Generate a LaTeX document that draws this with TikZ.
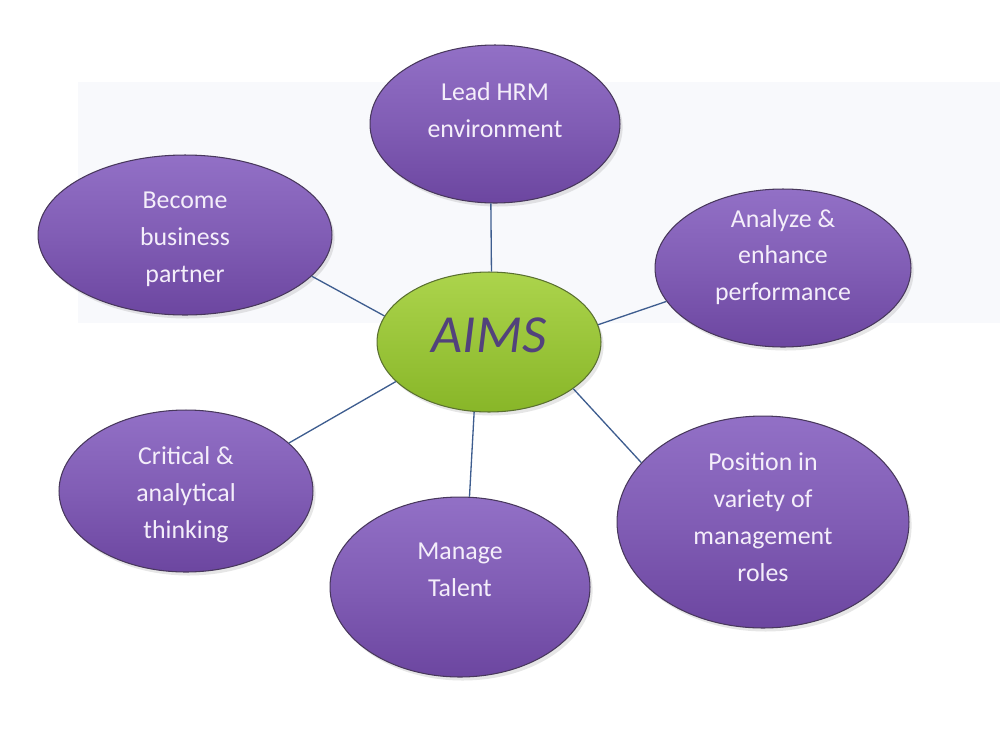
\documentclass[tikz,border=0pt]{standalone}
\usepackage{fontspec}
\setmainfont{Carlito}
\usetikzlibrary{shapes.geometric, shadows}
\usepackage{xcolor}

\definecolor{bgpale}{RGB}{248,249,252}
\definecolor{purpletop}{RGB}{146,112,198}
\definecolor{purplebot}{RGB}{108,70,160}
\definecolor{purpleedge}{RGB}{72,56,92}
\definecolor{greentop}{RGB}{172,212,76}
\definecolor{greenbot}{RGB}{136,182,40}
\definecolor{greenedge}{RGB}{90,112,48}
\definecolor{linkblue}{RGB}{62,93,143}
\definecolor{lavender}{RGB}{244,238,250}
\definecolor{aimsink}{RGB}{82,66,124}

\tikzset{
  bubble/.style={ellipse, draw=purpleedge, line width=0.6pt, inner sep=0pt,
      top color=purpletop, bottom color=purplebot, middle color=purpletop!55!purplebot,
      drop shadow={opacity=0.2, shadow xshift=1.5pt, shadow yshift=-2pt}},
  hub/.style={ellipse, draw=greenedge, line width=0.6pt, inner sep=0pt,
      top color=greentop, bottom color=greenbot,
      drop shadow={opacity=0.2, shadow xshift=1.5pt, shadow yshift=-2pt}},
  bubbletext/.style={text=lavender, align=center, inner sep=0pt,
      font=\fontsize{14.7}{21}\selectfont},
  link/.style={draw=linkblue, line width=0.75pt}
}

\begin{document}
\begin{tikzpicture}[x=0.02cm, y=-0.02cm]
  \useasboundingbox (0,0) rectangle (1000,751);
  % pale band behind the upper row
  \fill[bgpale] (78,82) rectangle (1000,323);

  % outer ellipses
  \node[bubble, minimum width=5cm, minimum height=3.16cm,
        label={[bubbletext, yshift=7.9pt]center:{Lead HRM\\environment}}] (lead) at (495,124) {};
  \node[bubble, minimum width=5.88cm, minimum height=3.2cm,
        label={[bubbletext, yshift=-2.3pt]center:{Become\\business\\partner}}] (partner) at (185,235) {};
  \node[bubble, minimum width=5.12cm, minimum height=3.16cm,
        label={[bubbletext, yshift=6.2pt]center:{Analyze \&\\enhance\\performance}}] (analyze) at (783,268) {};
  \node[bubble, minimum width=5.08cm, minimum height=3.24cm,
        label={[bubbletext, yshift=-2.3pt]center:{Critical \&\\analytical\\thinking}}] (critical) at (186,491) {};
  \node[bubble, minimum width=5.2cm, minimum height=3.6cm,
        label={[bubbletext, yshift=9.6pt]center:{Manage\\Talent}}] (talent) at (460,587) {};
  \node[bubble, minimum width=5.84cm, minimum height=4.24cm,
        label={[bubbletext, yshift=2.8pt]center:{Position in\\variety of\\management\\roles}}] (roles) at (763,522) {};

  % centre
  \node[hub, minimum width=4.48cm, minimum height=2.8cm,
        label={[text=aimsink, inner sep=0pt, yshift=4pt,
                font=\fontsize{30.5}{30}\selectfont\itshape]center:AIMS}] (aims) at (489,342) {};

  % spokes
  \foreach \a/\b in {lead.-93/aims.88, partner.-18.6/aims.166, analyze.196.7/aims.9.9,
                     critical.25.5/aims.203, talent.84/aims.258.7, roles.154.5/aims.-29.6}
    \draw[link] (\a) -- (\b);
\end{tikzpicture}
\end{document}
